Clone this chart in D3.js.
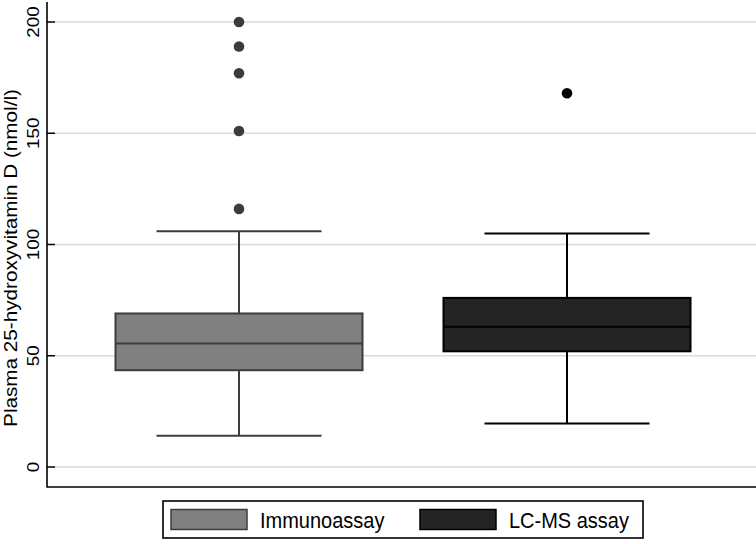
<!DOCTYPE html>
<html>

<head>
    <title>Plasma 25-hydroxyvitamin D, box plot</title>
    <style>
        body { margin: 0; background: #fff; }
        svg { display: block; font-family: "Liberation Sans", Arial, Helvetica, sans-serif; }
    </style>
    <script src="https://d3js.org/d3.v7.min.js"></script>
</head>

<body>
    <svg width="756" height="544"></svg>

    <script>
        // values
        var groups = ["Immunoassay", "LC-MS assay"];
        var whiskerLow = [14, 19.5];
        var q1 = [43.5, 52];
        var median = [55.5, 63];
        var q3 = [69, 76];
        var whiskerHigh = [106, 105];
        var outliers = [[116, 151, 177, 189, 200], [168]];
        var yTicks = [0, 50, 100, 150, 200];

        var fills = ["#808080", "#242424"];
        var strokes = ["#3c3c3c", "#000000"];

        var boxes = groups.map(function (g, i) {
            return {
                group: g, lo: whiskerLow[i], q1: q1[i], med: median[i],
                q3: q3[i], hi: whiskerHigh[i], out: outliers[i],
                fill: fills[i], stroke: strokes[i]
            };
        });

        var svg = d3.select("svg");

        var yScale = d3.scaleLinear().domain([0, 200]).range([467, 22]);
        var xScale = d3.scalePoint().domain(groups).range([75, 731]).padding(0.5);
        var boxW = 247, capW = 165;

        // gridlines + ticks
        svg.selectAll(".grid")
            .data(yTicks)
            .enter().append("line")
            .attr("x1", 55).attr("x2", 756)
            .attr("y1", function (d) { return yScale(d); })
            .attr("y2", function (d) { return yScale(d); })
            .attr("stroke", "#d9d9d9")
            .attr("stroke-width", 1.5);

        svg.selectAll(".tick")
            .data(yTicks)
            .enter().append("line")
            .attr("x1", 47).attr("x2", 55)
            .attr("y1", function (d) { return yScale(d); })
            .attr("y2", function (d) { return yScale(d); })
            .attr("stroke", "#000")
            .attr("stroke-width", 1.5);

        svg.selectAll(".ticklabel")
            .data(yTicks)
            .enter().append("text")
            .attr("transform", function (d) {
                return "translate(38.5," + yScale(d) + ") scale(1,1.14) rotate(-90)";
            })
            .attr("text-anchor", "middle")
            .attr("font-size", "16.5px")
            .attr("fill", "#000")
            .text(function (d) { return d; });

        // axis lines
        svg.append("line")
            .attr("x1", 47).attr("x2", 47).attr("y1", 2).attr("y2", 487.5)
            .attr("stroke", "#000").attr("stroke-width", 1.6);
        svg.append("line")
            .attr("x1", 47).attr("x2", 756).attr("y1", 487).attr("y2", 487)
            .attr("stroke", "#000").attr("stroke-width", 1.6);

        svg.append("text")
            .attr("transform", "translate(16.5,258) scale(1,1.15) rotate(-90)")
            .attr("text-anchor", "middle")
            .attr("font-size", "18px")
            .attr("fill", "#000")
            .text("Plasma 25-hydroxyvitamin D (nmol/l)");

        // boxes
        var g = svg.selectAll(".box")
            .data(boxes)
            .enter().append("g");

        g.append("line")
            .attr("x1", function (d) { return xScale(d.group); })
            .attr("x2", function (d) { return xScale(d.group); })
            .attr("y1", function (d) { return yScale(d.lo); })
            .attr("y2", function (d) { return yScale(d.hi); })
            .attr("stroke", function (d) { return d.stroke; })
            .attr("stroke-width", 2);

        g.selectAll(".cap")
            .data(function (d) { return [{ v: d.lo, b: d }, { v: d.hi, b: d }]; })
            .enter().append("line")
            .attr("x1", function (d) { return xScale(d.b.group) - capW / 2; })
            .attr("x2", function (d) { return xScale(d.b.group) + capW / 2; })
            .attr("y1", function (d) { return yScale(d.v); })
            .attr("y2", function (d) { return yScale(d.v); })
            .attr("stroke", function (d) { return d.b.stroke; })
            .attr("stroke-width", 2);

        g.append("rect")
            .attr("x", function (d) { return xScale(d.group) - boxW / 2; })
            .attr("width", boxW)
            .attr("y", function (d) { return yScale(d.q3); })
            .attr("height", function (d) { return yScale(d.q1) - yScale(d.q3); })
            .attr("fill", function (d) { return d.fill; })
            .attr("stroke", function (d) { return d.stroke; })
            .attr("stroke-width", 2);

        g.append("line")
            .attr("x1", function (d) { return xScale(d.group) - boxW / 2; })
            .attr("x2", function (d) { return xScale(d.group) + boxW / 2; })
            .attr("y1", function (d) { return yScale(d.med); })
            .attr("y2", function (d) { return yScale(d.med); })
            .attr("stroke", function (d) { return d.stroke; })
            .attr("stroke-width", 2);

        g.selectAll("circle")
            .data(function (d) { return d.out.map(function (v) { return { v: v, b: d }; }); })
            .enter().append("circle")
            .attr("cx", function (d) { return xScale(d.b.group); })
            .attr("cy", function (d) { return yScale(d.v); })
            .attr("r", 5.3)
            .attr("fill", function (d) { return d.b.stroke; });

        // legend
        svg.append("rect")
            .attr("x", 163).attr("y", 501).attr("width", 480).attr("height", 37)
            .attr("fill", "#fff").attr("stroke", "#000").attr("stroke-width", 1.6);

        var legX = [171, 420];
        var leg = svg.selectAll(".leg")
            .data(boxes)
            .enter().append("g")
            .attr("transform", function (d, i) { return "translate(" + legX[i] + ",0)"; });

        leg.append("rect")
            .attr("x", 0).attr("y", 509.5).attr("width", 76).attr("height", 20)
            .attr("fill", function (d) { return d.fill; })
            .attr("stroke", function (d) { return d.stroke; })
            .attr("stroke-width", 1.5);

        leg.append("text")
            .attr("transform", "translate(89,527.5) scale(1,1.12)")
            .attr("font-size", "20px")
            .attr("fill", "#000")
            .text(function (d) { return d.group; });
    </script>
</body>

</html>
